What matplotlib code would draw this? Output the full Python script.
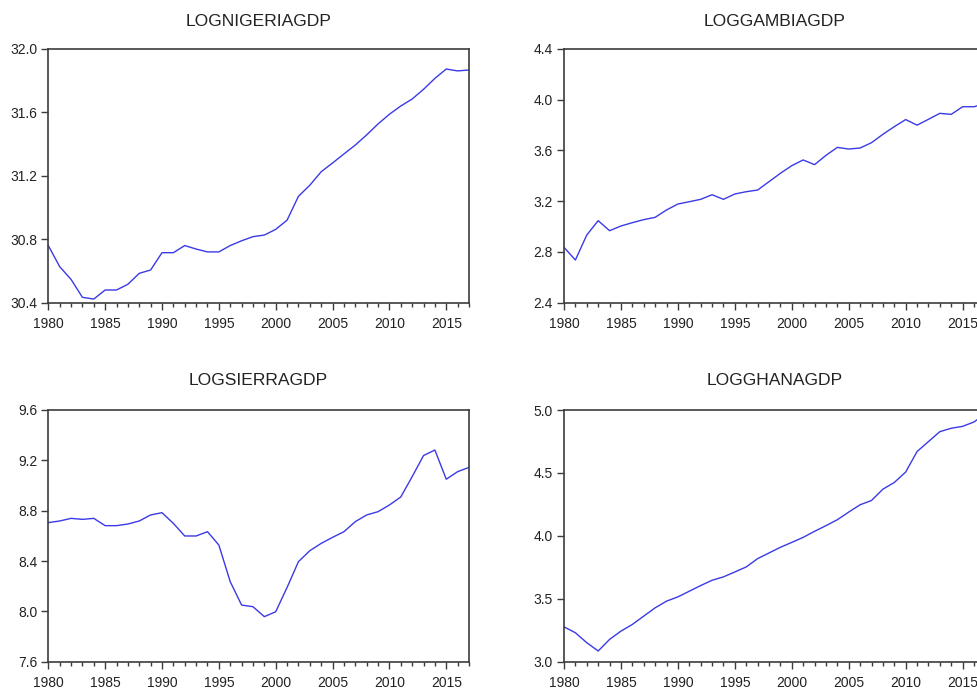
#!/usr/bin/env python3
"""Four-panel EViews-style line plots of log GDP series, 1980-2017."""

import matplotlib

matplotlib.use("Agg")
import matplotlib.pyplot as plt
from matplotlib.ticker import MultipleLocator, FormatStrFormatter

plt.rcParams["font.family"] = ["Liberation Sans", "DejaVu Sans"]

years = list(range(1980, 2018))

nigeria = [30.76, 30.627, 30.547, 30.434, 30.423, 30.48, 30.48, 30.516, 30.585, 30.606,
           30.715, 30.715, 30.76, 30.738, 30.72, 30.72, 30.76, 30.79, 30.816, 30.826,
           30.862, 30.92, 31.07, 31.14, 31.225, 31.28, 31.337, 31.393, 31.457, 31.526,
           31.587, 31.639, 31.683, 31.744, 31.813, 31.872, 31.86, 31.866]

gambia = [2.836, 2.736, 2.933, 3.046, 2.967, 3.004, 3.03, 3.054, 3.072, 3.13,
          3.177, 3.195, 3.214, 3.25, 3.214, 3.256, 3.274, 3.287, 3.353, 3.419,
          3.479, 3.524, 3.487, 3.56, 3.623, 3.61, 3.618, 3.66, 3.726, 3.786,
          3.842, 3.798, 3.844, 3.891, 3.883, 3.943, 3.943, 3.97]

sierra = [8.705, 8.718, 8.739, 8.731, 8.739, 8.681, 8.681, 8.694, 8.718, 8.766,
          8.784, 8.699, 8.599, 8.599, 8.633, 8.527, 8.236, 8.05, 8.037, 7.958,
          7.997, 8.19, 8.395, 8.482, 8.54, 8.588, 8.633, 8.713, 8.766, 8.792,
          8.845, 8.909, 9.07, 9.238, 9.282, 9.05, 9.11, 9.144]

ghana = [3.277, 3.23, 3.151, 3.085, 3.177, 3.243, 3.296, 3.362, 3.428, 3.481,
         3.515, 3.56, 3.605, 3.647, 3.674, 3.713, 3.753, 3.819, 3.864, 3.909,
         3.948, 3.988, 4.036, 4.081, 4.128, 4.189, 4.247, 4.281, 4.371, 4.424,
         4.507, 4.67, 4.749, 4.828, 4.855, 4.87, 4.905, 4.97]

titles = ["LOGNIGERIAGDP", "LOGGAMBIAGDP", "LOGSIERRAGDP", "LOGGHANAGDP"]
series = [nigeria, gambia, sierra, ghana]
ylims = [(30.4, 32.0), (2.4, 4.4), (7.6, 9.6), (3.0, 5.0)]
ysteps = [0.4, 0.4, 0.4, 0.5]

W, H = 977, 689
# axes boxes in pixels: left, top, right, bottom
boxes = [(48.3, 48.7, 469.0, 302.7),
         (564.0, 48.7, 985.4, 302.7),
         (48.3, 410.0, 469.0, 661.7),
         (564.0, 410.0, 985.4, 661.7)]
title_pads = [16, 16, 18, 18]

LINE = "#3a3ae6"
SPINE = "#3c3c3c"
TEXT = "#222222"


def main() -> None:
    fig = plt.figure(figsize=(W / 100, H / 100), dpi=100)
    for title, vals, ylim, step, box, pad in zip(titles, series, ylims, ysteps, boxes, title_pads):
        l, t, r, b = box
        ax = fig.add_axes([l / W, 1 - b / H, (r - l) / W, (b - t) / H])
        ax.plot(years, vals, color=LINE, linewidth=1.0)
        ax.set_xlim(1980, 2017)
        ax.set_ylim(*ylim)
        ax.xaxis.set_major_locator(MultipleLocator(5))
        ax.xaxis.set_minor_locator(MultipleLocator(1))
        ax.yaxis.set_major_locator(MultipleLocator(step))
        ax.yaxis.set_major_formatter(FormatStrFormatter("%.1f"))
        ax.tick_params(axis="both", which="major", direction="out", length=5, width=1.0,
                       color=SPINE, labelsize=10, labelcolor=TEXT, pad=3)
        ax.tick_params(axis="x", which="major", pad=5)
        ax.tick_params(axis="x", which="minor", direction="out", length=3, width=1.0, color=SPINE)
        for sp in ax.spines.values():
            sp.set_color(SPINE)
            sp.set_linewidth(1.2)
        ax.set_title(title, fontsize=12.6, color=TEXT, pad=pad)
    fig.savefig("out.png", dpi=100)


if __name__ == "__main__":
    main()
